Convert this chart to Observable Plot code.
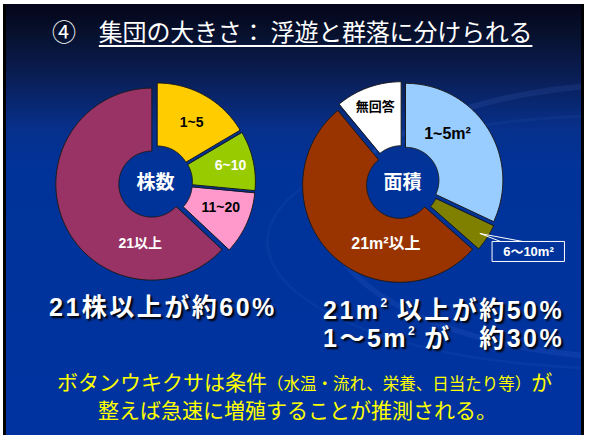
<!DOCTYPE html>
<html><head><meta charset="utf-8">
<script src="https://cdn.jsdelivr.net/npm/d3@7"></script>
<script src="https://cdn.jsdelivr.net/npm/@observablehq/plot@0.6"></script>
<style>
body{margin:0;width:595px;height:435px;overflow:hidden;background:#fff;position:relative;font-family:"Noto Sans CJK JP",sans-serif}
#slide{position:absolute;left:3px;top:4px;width:575px;height:431px;border-left:3px solid #000;border-right:3px solid #000;overflow:hidden;
 background:linear-gradient(to bottom,#04051a 0px,#07112e 30px,#0a1f58 75px,#07308c 125px,#003399 165px,#0033a0 100%)}
.swoosh{position:absolute;border-radius:50%;border-style:solid;border-color:rgba(110,150,255,0.10)}
.abs{position:absolute;white-space:nowrap;line-height:1}
#title{left:52px;top:19px;color:#fff;font-size:24px;letter-spacing:-0.2px}
#title u{margin-left:23px;text-decoration:underline;text-decoration-thickness:2px;text-underline-offset:4px}
.sum{color:#fff;font-weight:bold;font-family:"Liberation Sans","Noto Sans CJK JP",sans-serif;font-size:25px;text-shadow:2px 2px 2px #000;letter-spacing:2.5px}
.sup{font-size:12px;vertical-align:top;position:relative;top:-1px;letter-spacing:0}
.yel{color:#ffff00;font-size:21px}
.yel .sm{font-size:16.5px}
#chart{position:absolute;left:0;top:70px}
</style></head>
<body>
<div id="slide">
  <div class="swoosh" style="left:321px;top:76px;width:640px;height:270px;border-width:6px"></div>
  <div class="swoosh" style="left:260px;top:110px;width:700px;height:250px;border-width:3px;border-color:rgba(110,150,255,0.06)"></div>
</div>
<div id="title" class="abs">④<u>集団の大きさ：&nbsp;浮遊と群落に分けられる</u></div>
<div id="chart"></div>
<div class="abs sum" style="left:49px;top:295px">21株以上が約60%</div>
<div class="abs sum" style="left:323px;top:298px">21m<span class="sup">2</span> 以上が約50%</div>
<div class="abs sum" style="left:323px;top:326px">1～5m<span class="sup">2</span> が　約30%</div>
<div class="abs yel" style="left:57px;top:371px">ボタンウキクサは条件<span class="sm">（水温・流れ、栄養、日当たり等）</span>が</div>
<div class="abs yel" style="left:98px;top:399px">整えば急速に増殖することが推測される。</div>
<script>
// ---- data ----
const plantCats = ["1~5", "6~10", "11~20", "21以上"];
const plantValues = [16.5, 10, 10.5, 63];
const plantColors = ["#ffcc00", "#99cc00", "#ff99cc", "#993366"];
const areaCats = ["1~5m²", "6～10m²", "21m²以上", "無回答"];
const areaValues = [32, 4.5, 52.5, 11];
const areaColors = ["#99ccff", "#808000", "#993300", "#ffffff"];
const centerLabels = ["株数", "面積"];

// ---- layout ----
const W = 595, H = 220;
const donuts = [
  {cats: plantCats, values: plantValues, cx: 155, cy: 112, r0: 33, r1: 96, explode: 4, center: centerLabels[0]},
  {cats: areaCats, values: areaValues, cx: 402, cy: 112, r0: 33, r1: 97, explode: 4, center: centerLabels[1]}
];
// label placement: angle (deg, clockwise from top), radius, colour, size
const labelSpots = {
  "1~5": [31, 70, "#000", 14], "6~10": [77, 77, "#fff", 14], "11~20": [111, 70, "#000", 14], "21以上": [194, 63, "#fff", 14],
  "1~5m²": [43, 66, "#000", 16], "21m²以上": [195, 64, "#fff", 16], "無回答": [340, 80, "#000", 13],
  "6～10m²": [118.7, 143.6, "#fff", 13]
};
const boxed = "6～10m²";
const rad = d => d * Math.PI / 180;
const polar = (cx, cy, a, r) => [cx + r * Math.sin(a), cy - r * Math.cos(a)];

const slices = [], labels = [], callout = [];
for (const dn of donuts) {
  const arcs = d3.pie().sort(null)(dn.values);
  arcs.forEach((a, i) => {
    const mid = (a.startAngle + a.endAngle) / 2;
    const ox = dn.explode * Math.sin(mid), oy = -dn.explode * Math.cos(mid);
    const n = Math.max(2, Math.ceil((a.endAngle - a.startAngle) / rad(1)));
    const ring = [];
    for (let k = 0; k <= n; k++) ring.push(polar(dn.cx + ox, dn.cy + oy, a.startAngle + (a.endAngle - a.startAngle) * k / n, dn.r1));
    for (let k = n; k >= 0; k--) ring.push(polar(dn.cx + ox, dn.cy + oy, a.startAngle + (a.endAngle - a.startAngle) * k / n, dn.r0));
    ring.push(ring[0]);
    const cat = dn.cats[i];
    slices.push({type: "Feature", properties: {cat}, geometry: {type: "Polygon", coordinates: [ring]}});
    const s = labelSpots[cat];
    if (s) {
      const [x, y] = polar(dn.cx, dn.cy, rad(s[0]), s[1]);
      labels.push({x, y, text: cat, color: s[2], size: s[3]});
      if (cat === boxed) {
        const bw = 36, bh = 10;
        callout.push({type: "Feature", geometry: {type: "Polygon", coordinates: [[[x - bw, y - bh], [x + bw, y - bh], [x + bw, y + bh], [x - bw, y + bh], [x - bw, y - bh]]]}});
        const anchor = polar(dn.cx, dn.cy, mid, dn.r1 - 4);
        callout.push({type: "Feature", geometry: {type: "LineString", coordinates: [anchor, [x - 28, y - bh]]}});
        callout.push({type: "Feature", geometry: {type: "LineString", coordinates: [anchor, [x - 6, y - bh]]}});
      }
    }
  });
  labels.push({x: dn.cx, y: dn.cy, text: dn.center, color: "#fff", size: 19});
}

const font = '"Liberation Sans","Noto Sans CJK JP",sans-serif';
const chart = Plot.plot({
  width: W, height: H, margin: 0, projection: "identity",
  style: {background: "transparent", overflow: "visible"},
  color: {type: "ordinal", domain: [...plantCats, ...areaCats], range: [...plantColors, ...areaColors]},
  marks: [
    Plot.geo(slices, {fill: d => d.properties.cat, stroke: "#1a1a1a", strokeWidth: 1}),
    Plot.geo(callout, {stroke: "#fff", strokeWidth: 1, fill: "none"}),
    Plot.text(labels, {filter: d => d.color === "#000", x: "x", y: "y", text: "text", fill: "#000", fontSize: "size", fontWeight: "bold", fontFamily: font}),
    Plot.text(labels, {filter: d => d.color === "#fff", x: "x", y: "y", text: "text", fill: "#fff", fontSize: "size", fontWeight: "bold", fontFamily: font})
  ]
});
document.getElementById("chart").append(chart);
</script>
</body></html>
